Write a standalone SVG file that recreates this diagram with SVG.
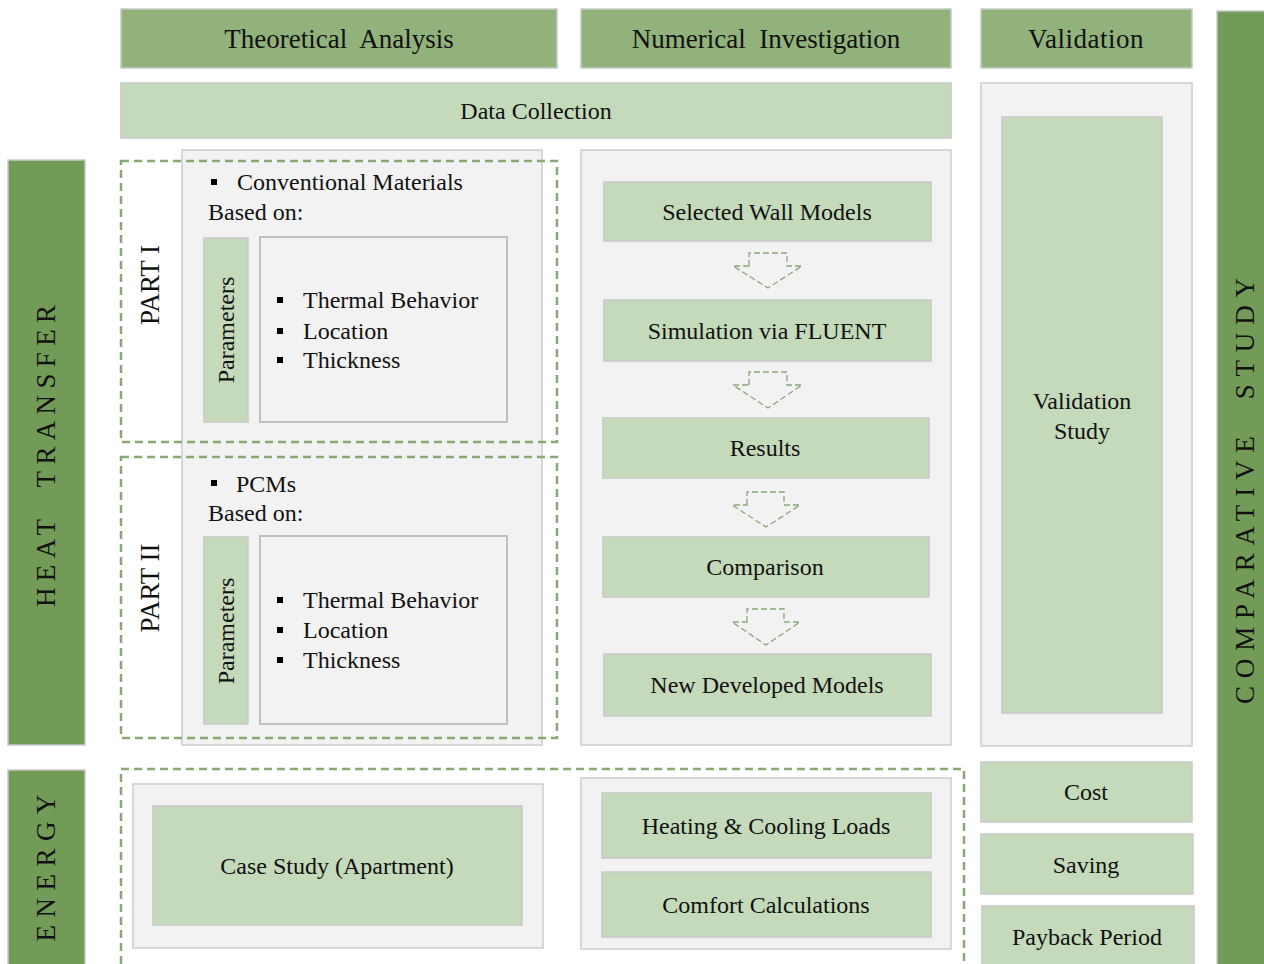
<svg xmlns="http://www.w3.org/2000/svg" width="1264" height="964" viewBox="0 0 1264 964">
<style>
text{font-family:"Liberation Serif","Times New Roman",serif;fill:#111;}
.hdr{fill:#92b27c;stroke:#c8c8c8;stroke-width:1.5;}
.lt{fill:#c5d9bb;stroke:#c8c8c8;stroke-width:1.5;}
.dk{fill:#739b58;stroke:#c8c8c8;stroke-width:1.5;}
.gp{fill:#f2f2f2;stroke:#cccccc;stroke-width:1.5;}
.ib{fill:#f2f2f2;stroke:#bfbfbf;stroke-width:2;}
.dash{fill:none;stroke:#8aa876;stroke-width:2.5;stroke-dasharray:8 5;}
.arr{fill:none;stroke:#8aa876;stroke-width:1.3;stroke-dasharray:6 3;}
.t27{font-size:27px;text-anchor:middle;dominant-baseline:central;}
.t24{font-size:24px;text-anchor:middle;dominant-baseline:central;}
.t24l{font-size:24px;}
.vbar{font-size:27px;text-anchor:middle;dominant-baseline:central;}
.bul{fill:#000;}
</style>
<rect width="1264" height="964" fill="#ffffff"/>

<g id="hdr-theoretical"><rect class="hdr" x="121" y="9" width="436" height="59"/><text class="t27" x="339" y="39" xml:space="preserve">Theoretical  Analysis</text></g>
<g id="hdr-numerical"><rect class="hdr" x="581" y="9" width="370" height="59"/><text class="t27" x="766" y="39" xml:space="preserve">Numerical  Investigation</text></g>
<g id="hdr-validation"><rect class="hdr" x="981" y="9" width="211" height="59"/><text class="t27" x="1086" y="39" letter-spacing="0.5">Validation</text></g>
<g id="bar-comparative"><rect class="dk" x="1217" y="11" width="60" height="960"/><text class="vbar" transform="translate(1245,491) rotate(-90)" textLength="426" lengthAdjust="spacing" xml:space="preserve">COMPARATIVE  STUDY</text></g>

<g id="data-collection"><rect class="lt" x="121" y="83" width="830" height="55"/><text class="t24" x="536" y="111">Data Collection</text></g>

<g id="bar-heat"><rect class="dk" x="8" y="160" width="77" height="585"/><text class="vbar" transform="translate(46,456) rotate(-90)" textLength="302" lengthAdjust="spacing" xml:space="preserve">HEAT  TRANSFER</text></g>
<g id="bar-energy"><rect class="dk" x="8" y="770" width="77" height="200"/><text class="vbar" transform="translate(46,868) rotate(-90)" textLength="147" lengthAdjust="spacing">ENERGY</text></g>

<g id="theoretical-panel"><rect class="gp" x="182" y="150" width="360" height="595"/></g>

<g id="part1">
<rect class="dash" x="121" y="161" width="436" height="281"/>
<text class="t27" transform="translate(150,285) rotate(-90)">PART I</text>
<rect class="bul" x="211" y="179" width="6" height="6"/>
<text class="t24l" x="237" y="190">Conventional Materials</text>
<text class="t24l" x="208" y="220">Based on:</text>
<rect class="lt" x="204" y="238" width="44" height="184"/>
<text class="t24" transform="translate(226,330) rotate(-90)">Parameters</text>
<rect class="ib" x="260" y="237" width="247" height="185"/>
<rect class="bul" x="277" y="297" width="6" height="6"/><text class="t24l" x="303" y="308">Thermal Behavior</text>
<rect class="bul" x="277" y="328" width="6" height="6"/><text class="t24l" x="303" y="339">Location</text>
<rect class="bul" x="277" y="357" width="6" height="6"/><text class="t24l" x="303" y="368">Thickness</text>
</g>

<g id="part2">
<rect class="dash" x="121" y="457" width="436" height="281"/>
<text class="t27" transform="translate(150,588) rotate(-90)">PART II</text>
<rect class="bul" x="211" y="480" width="6" height="6"/>
<text class="t24l" x="236" y="492">PCMs</text>
<text class="t24l" x="208" y="521">Based on:</text>
<rect class="lt" x="204" y="537" width="44" height="187"/>
<text class="t24" transform="translate(226,631) rotate(-90)">Parameters</text>
<rect class="ib" x="260" y="536" width="247" height="188"/>
<rect class="bul" x="277" y="597" width="6" height="6"/><text class="t24l" x="303" y="608">Thermal Behavior</text>
<rect class="bul" x="277" y="627" width="6" height="6"/><text class="t24l" x="303" y="638">Location</text>
<rect class="bul" x="277" y="657" width="6" height="6"/><text class="t24l" x="303" y="668">Thickness</text>
</g>

<g id="numerical-panel"><rect class="gp" x="581" y="150" width="370" height="595"/></g>
<g id="n-selected"><rect class="lt" x="604" y="182" width="327" height="59"/><text class="t24" x="767" y="212">Selected Wall Models</text></g>
<g id="n-simulation"><rect class="lt" x="604" y="300" width="327" height="61"/><text class="t24" x="767" y="331">Simulation via FLUENT</text></g>
<g id="n-results"><rect class="lt" x="603" y="418" width="326" height="60"/><text class="t24" x="765" y="448">Results</text></g>
<g id="n-comparison"><rect class="lt" x="603" y="537" width="326" height="60"/><text class="t24" x="765" y="567">Comparison</text></g>
<g id="n-new"><rect class="lt" x="604" y="654" width="327" height="62"/><text class="t24" x="767" y="685">New Developed Models</text></g>

<g id="connectors">
<path class="arr" d="M749,266 L749,253 L787,253 L787,266 L802,266 L768,288 L733,266 Z"/>
<path class="arr" d="M749,385 L749,372 L787,372 L787,385 L802,385 L768,408 L733,385 Z"/>
<path class="arr" d="M747,505 L747,492 L784,492 L784,505 L800,505 L766,527 L732,505 Z"/>
<path class="arr" d="M747,622 L747,609 L784,609 L784,622 L800,622 L766,645 L732,622 Z"/>
</g>

<g id="validation-panel"><rect class="gp" x="981" y="83" width="211" height="663"/></g>
<g id="validation-study"><rect class="lt" x="1002" y="117" width="160" height="596"/>
<text class="t24" x="1082" y="401">Validation</text><text class="t24" x="1082" y="431">Study</text></g>

<g id="energy-box"><rect class="dash" x="121" y="769" width="843" height="210"/></g>
<g id="case-panel"><rect class="gp" x="133" y="784" width="410" height="164"/></g>
<g id="case-study"><rect class="lt" x="153" y="806" width="369" height="119"/><text class="t24" x="337" y="866">Case Study (Apartment)</text></g>
<g id="loads-panel"><rect class="gp" x="581" y="778" width="370" height="171"/></g>
<g id="heating"><rect class="lt" x="602" y="793" width="329" height="65"/><text class="t24" x="766" y="826">Heating &amp; Cooling Loads</text></g>
<g id="comfort"><rect class="lt" x="602" y="872" width="329" height="65"/><text class="t24" x="766" y="905">Comfort Calculations</text></g>

<g id="cost"><rect class="lt" x="981" y="762" width="211" height="60"/><text class="t24" x="1086" y="792">Cost</text></g>
<g id="saving"><rect class="lt" x="981" y="834" width="212" height="60"/><text class="t24" x="1086" y="865">Saving</text></g>
<g id="payback"><rect class="lt" x="982" y="906" width="212" height="70"/><text class="t24" x="1087" y="937">Payback Period</text></g>
</svg>
